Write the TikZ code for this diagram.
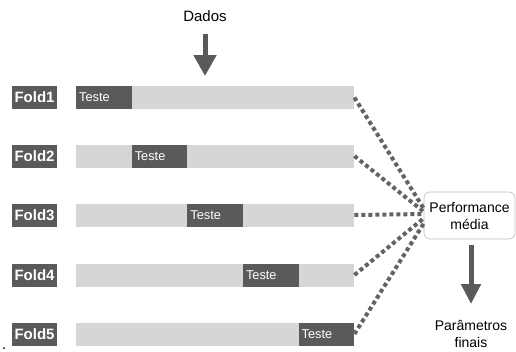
\documentclass[tikz,border=0pt]{standalone}
\usepackage{fontspec}
\setmainfont{Liberation Sans}
\usetikzlibrary{arrows.meta}
\definecolor{darkbox}{HTML}{5A5A5A}
\definecolor{barfill}{HTML}{D6D6D6}
\definecolor{dotcol}{HTML}{636363}
\definecolor{boxborder}{HTML}{BDBDBD}
\begin{document}
\begin{tikzpicture}[x=1pt,y=-1pt,
  foldlabel/.style={fill=darkbox, text=white, font=\bfseries\fontsize{15}{18}\selectfont, minimum width=45pt, minimum height=23pt, inner sep=0pt},
  barbox/.style={fill=barfill, minimum width=278pt, minimum height=23pt, inner sep=0pt, anchor=west},
  testebox/.style={fill=darkbox, text=white, font=\fontsize{12.8}{15}\selectfont, minimum height=23pt, text width=49.6pt, inner xsep=3pt, inner ysep=0pt, align=left, anchor=west},
  dotline/.style={draw=dotcol, line width=4pt, dash pattern=on 4pt off 3pt},
  bigarrow/.style={draw=darkbox, line width=5pt, -{Triangle[width=22pt,length=21pt]}},
  lbl/.style={font=\fontsize{14}{17}\selectfont, align=center, inner sep=0pt}
]
\useasboundingbox (0,0) rectangle (516,351);
% rows
\foreach \i/\yy in {1/97.5,2/156,3/215,4/275,5/334}{
  \node[foldlabel] (f\i) at (34.5,\yy) {Fold\i};
  \node[barbox] (b\i) at (76,\yy) {};
  \node[testebox] (t\i) at ({76+55.6*(\i-1)},\yy) {Teste};
}
% Performance box
\node[draw=boxborder, line width=0.6pt, rounded corners=6pt, minimum width=91pt, minimum height=47pt, lbl] (perf) at (469.5,215.5) {Performance\\média};
% dotted connectors
\coordinate (e1) at (424,209);
\coordinate (e2) at (424,212);
\coordinate (e3) at (424,214);
\coordinate (e4) at (424,218);
\coordinate (e5) at (424,223);
\foreach \i in {1,...,5}{
  \draw[dotline] (b\i.east) -- (e\i);
}
% Dados
\node[lbl, font=\fontsize{15}{18}\selectfont] (dados) at (205,16) {Dados};
\coordinate (dstart) at (205,34);
\coordinate (dtip) at (205,76);
\draw[bigarrow] (dstart) -- (dtip);
% Parametros
\coordinate (pstart) at (471,245);
\coordinate (ptip) at (471,304);
\draw[bigarrow, -{Triangle[width=19pt,length=20pt]}] (pstart) -- (ptip);
\node[lbl] (param) at (471,334) {Parâmetros\\finais};
% stray dot
\fill[black] (4,348) circle (1pt);
\end{tikzpicture}
\end{document}
